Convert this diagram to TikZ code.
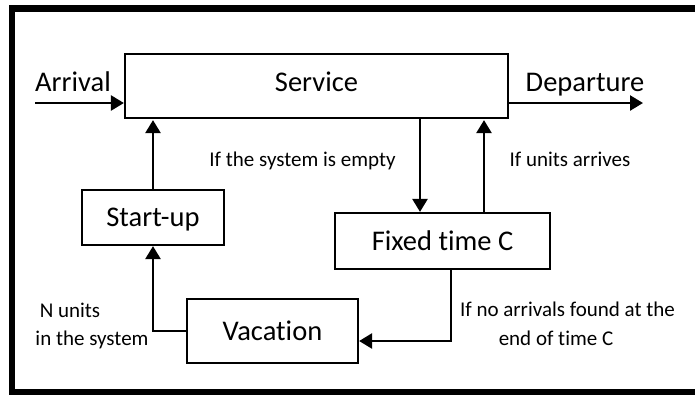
\documentclass[tikz,border=0pt]{standalone}
\usepackage{fontspec}
\setmainfont{Carlito}[RawFeature={-liga}]
\usetikzlibrary{arrows.meta}
\begin{document}
\begin{tikzpicture}[x=1pt,y=-1pt,
  box/.style={draw, line width=2.2pt, inner sep=0pt},
  big/.style={font=\fontsize{28.5}{34}\selectfont, text height=18pt, text depth=0pt},
  small/.style={font=\fontsize{21}{25}\selectfont, inner sep=0pt},
  flow/.style={line width=2.5pt, -{Triangle[length=13pt,width=15pt]}},
  ]
\useasboundingbox (0,0) rectangle (695,394);
\clip (0,0) rectangle (695,394);
% frame, open on the right
\draw[line width=6.5pt] (12,8.5) rectangle (720,392);

% stages
\node[box, big, text depth=8pt, minimum width=383pt, minimum height=64pt] (service) at (316.5,86) {Service};
\node[box, big, minimum width=142pt, minimum height=55pt] (startup) at (153,217.5) {Start-up};
\node[box, big, minimum width=215pt, minimum height=56pt] (fixed) at (442.5,241) {Fixed time C};
\node[box, big, minimum width=171pt, minimum height=64pt] (vacation) at (272.5,331) {Vacation};

% input / output
\node[big, anchor=base] (arrival) at (73,91) {Arrival};
\node[big, anchor=base] (departure) at (585,91) {Departure};
\coordinate (arrin) at (35,103);
\coordinate (depout) at (643,103);

% columns and rows for the connectors
\coordinate (xdown) at (420,0);
\coordinate (xup) at (484,0);
\coordinate (xback) at (451,0);
\coordinate (yback) at (0,341);

\draw[flow] (arrin) -- (arrin -| service.west);
\draw[flow] (service.east |- depout) -- (depout);
\draw[flow, shorten >=1pt] (startup.north) -- (startup.north |- service.south);
\draw[flow] (vacation.west) -| (startup.south);
\draw[flow] (service.south -| xdown) -- (fixed.north -| xdown);
\draw[flow, shorten >=1pt] (fixed.north -| xup) -- (service.south -| xup);
\draw[flow] (fixed.south -| xback) |- (vacation.east |- yback);

% conditions
\node[small, anchor=base] (lempty) at (302.5,166) {If the system is empty};
\node[small, anchor=base] (larrives) at (570,166) {If units arrives};
\node[small, anchor=base] (lnunits) at (70,317) {N units};
\node[small, anchor=base] (lsystem) at (92,345) {in the system};
\node[small, anchor=base] (lnoarr) at (567.5,316) {If no arrivals found at the};
\node[small, anchor=base] (lendc) at (556,345.5) {end of time C};
\end{tikzpicture}
\end{document}
